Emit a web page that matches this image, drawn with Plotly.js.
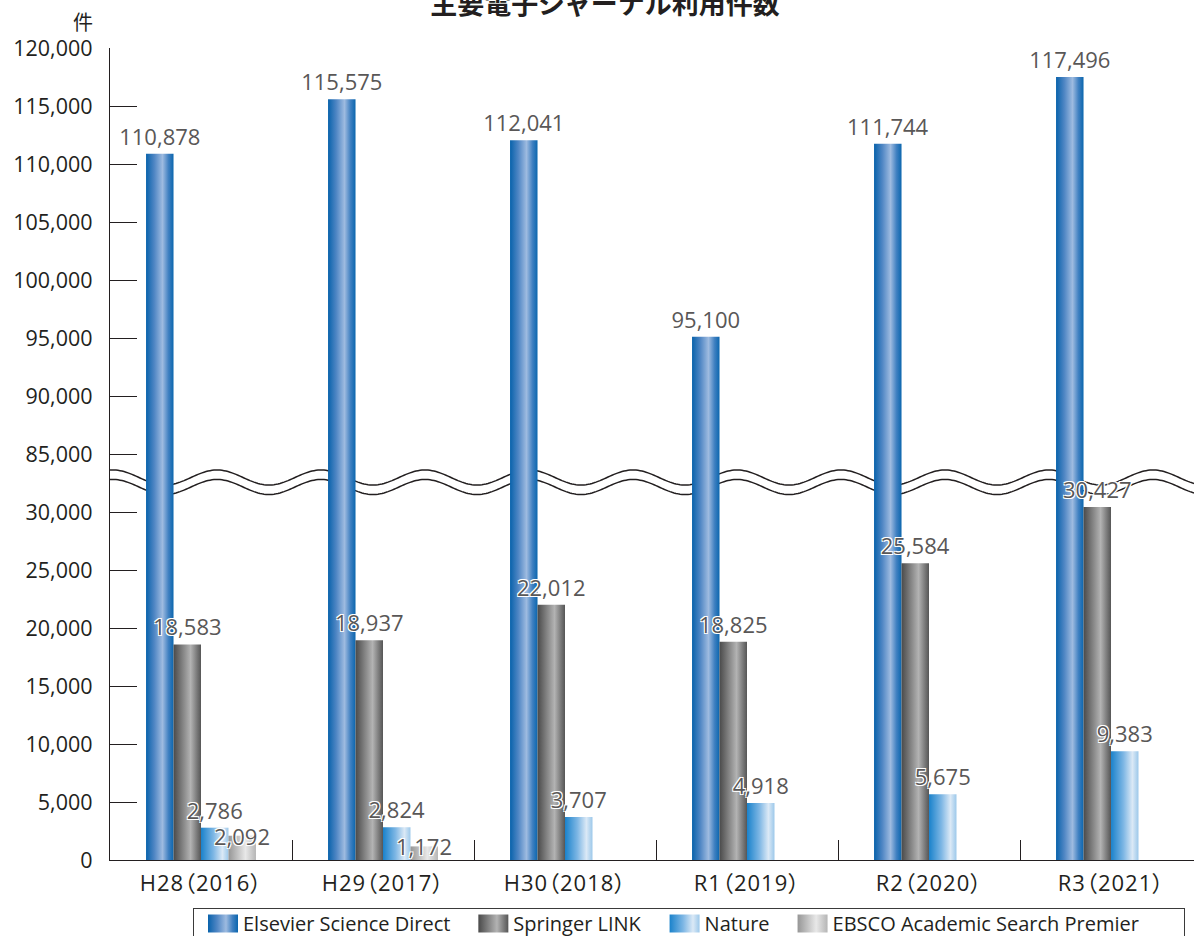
<!DOCTYPE html>
<html>
<head>
<meta charset="utf-8">
<script src="https://cdn.plot.ly/plotly-3.0.1.min.js"></script>
<style>
  html, body { margin: 0; padding: 0; background: #fff; }
  #chart { width: 1194px; height: 936px; }
</style>
</head>
<body>
<div id="chart"></div>
<script>
// Usage counts of the main e-journal platforms, by fiscal year
const categories = ['H28（2016）', 'H29（2017）', 'H30（2018）', 'R1（2019）', 'R2（2020）', 'R3（2021）'];
const elsevier = [110878, 115575, 112041, 95100, 111744, 117496];
const springer = [18583, 18937, 22012, 18825, 25584, 30427];
const nature = [2786, 2824, 3707, 4918, 5675, 9383];
const ebsco = [2092, 1172, null, null, null, null];
const seriesNames = ['Elsevier Science Direct', 'Springer LINK', 'Nature', 'EBSCO Academic Search Premier'];
const yTickValues = [0, 5000, 10000, 15000, 20000, 25000, 30000,
                     85000, 90000, 95000, 100000, 105000, 110000, 115000, 120000];

// Broken value axis: 30,000 .. 85,000 is squeezed into one 5,000 step
const BREAK_FROM = 30000;
const BREAK_TO = 85000;
const BREAK_SPAN = 5000;
function compress(v) {
  if (v === null) return null;
  return v >= BREAK_TO ? v - (BREAK_TO - BREAK_FROM) + BREAK_SPAN : v;
}
const fmt = v => (v === null ? '' : v.toLocaleString('en-US'));

const INK = '#231f20';
const LABEL = '#595757';
const LATIN = '"Open Sans", "Noto Sans CJK JP", sans-serif';
const CJK = '"Noto Sans CJK JP", sans-serif';
const HALO = '1px 1px 0 #fff, -1px -1px 0 #fff, 1px -1px 0 #fff, -1px 1px 0 #fff';

// Plot frame (pixels)
const PLOT_LEFT = 110, PLOT_RIGHT = 1194, PLOT_TOP = 48, PLOT_BOTTOM = 860;
const BARGAP = 0.396;
const X_RANGE = [-0.5, 5.456];

const gradients = [
  [[0, '#0862ab'], [0.3, '#4f86c4'], [0.6, '#9ebbe0'], [0.82, '#3f80c1'], [1, '#0b66ae']],
  [[0, '#4a4a4a'], [0.3, '#7d7d7d'], [0.62, '#b3b3b3'], [0.85, '#7a7a7a'], [1, '#565656']],
  [[0, '#1a82cb'], [0.45, '#7db6e4'], [0.78, '#dbe9f6'], [1, '#9cc8ea']],
  [[0, '#969696'], [0.35, '#c4c4c4'], [0.62, '#e8e8e8'], [1, '#b5b5b5']]
];
const flatColors = ['#1f6fb6', '#7a7a7a', '#5aa8de', '#c8c8c8'];

const allSeries = [elsevier, springer, nature, ebsco];
const traces = allSeries.map((vals, i) => ({
  type: 'bar',
  name: seriesNames[i],
  x: categories,
  y: vals.map(compress),
  customdata: vals,
  // the short EBSCO bars get their labels as annotations (see below)
  text: i === 3 ? vals.map(() => '') : vals.map(fmt),
  textposition: 'outside',
  constraintext: 'none',
  cliponaxis: false,
  textfont: { family: LATIN, size: 22, color: LABEL, shadow: HALO },
  marker: { color: flatColors[i], line: { width: 0 } },
  hovertemplate: '%{x}<br>' + seriesNames[i] + ': %{customdata:,}<extra></extra>'
}));

// EBSCO value labels, centred on the top of their bars
const catWidthPx = (PLOT_RIGHT - PLOT_LEFT) / (X_RANGE[1] - X_RANGE[0]);
const slotPx = catWidthPx * (1 - BARGAP) / 4;
const ebscoLabels = ebsco.map((v, j) => v === null ? null : ({
  text: fmt(v), x: categories[j], y: compress(v), xref: 'x', yref: 'y',
  xshift: 1.5 * slotPx, xanchor: 'center', yanchor: 'middle', showarrow: false,
  font: { family: LATIN, size: 22, color: LABEL, shadow: HALO }
})).filter(Boolean);

// Two wavy lines marking the axis break, drawn behind the bars
function wavePath(centerVal, ampVal) {
  const pts = [];
  for (let px = PLOT_LEFT; px <= PLOT_RIGHT; px += 2) {
    const xp = (px - PLOT_LEFT) / (PLOT_RIGHT - PLOT_LEFT);
    const yv = centerVal + ampVal * Math.cos(2 * Math.PI * (px - 217) / 104);
    pts.push((pts.length ? 'L' : 'M') + xp.toFixed(5) + ',' + yv.toFixed(1));
  }
  return pts.join(' ');
}
const waveShapes = [32974, 32155].map(c => ({
  type: 'path', xref: 'paper', yref: 'y', layer: 'below',
  path: wavePath(c, 647),
  line: { color: INK, width: 1.5 }
}));

const layout = {
  width: 1194, height: 936,
  margin: { l: PLOT_LEFT, r: 1194 - PLOT_RIGHT, t: PLOT_TOP, b: 936 - PLOT_BOTTOM, pad: 0 },
  paper_bgcolor: '#fff', plot_bgcolor: '#fff',
  barmode: 'group', bargap: BARGAP, bargroupgap: 0,
  showlegend: true,
  title: {
    text: '主要電子ジャーナル利用件数',
    font: { family: CJK, size: 27, color: INK, weight: 700 },
    xref: 'container', x: 605 / 1194, xanchor: 'center',
    yref: 'container', y: 0.995, yanchor: 'middle'
  },
  xaxis: {
    type: 'category',
    range: X_RANGE,
    showline: true, linecolor: INK, linewidth: 1.3,
    ticks: 'inside', tickson: 'boundaries', ticklen: 20, tickwidth: 1.3, tickcolor: INK,
    showgrid: false, zeroline: false,
    tickfont: { family: LATIN, size: 22, color: INK },
    ticklabelstandoff: 3,
    fixedrange: true
  },
  yaxis: {
    range: [0, compress(120000)],
    showline: true, linecolor: INK, linewidth: 1.3,
    ticks: 'inside', ticklen: 27, tickwidth: 1.3, tickcolor: INK,
    tickvals: yTickValues.map(compress),
    ticktext: yTickValues.map(fmt),
    showgrid: false, zeroline: false,
    tickfont: { family: LATIN, size: 21.5, color: INK },
    ticklabelstandoff: 12,
    fixedrange: true
  },
  legend: {
    orientation: 'h',
    xref: 'container', x: 193 / 1194, xanchor: 'left',
    yref: 'container', y: 1 - 908 / 936, yanchor: 'top',
    bordercolor: '#3a3a3a', borderwidth: 1, bgcolor: '#fff',
    font: { family: LATIN, size: 20, color: INK },
    itemclick: false, itemdoubleclick: false
  },
  shapes: waveShapes,
  annotations: [{
    text: '件', xref: 'paper', yref: 'paper',
    x: (83 - PLOT_LEFT) / (PLOT_RIGHT - PLOT_LEFT), y: 1 + (PLOT_TOP - 22) / (PLOT_BOTTOM - PLOT_TOP),
    xanchor: 'center', yanchor: 'middle', showarrow: false,
    font: { family: CJK, size: 20, color: INK }
  }].concat(ebscoLabels)
};

function translateOf(el) {
  const m = /translate\(\s*([-\d.e]+)[ ,]+([-\d.e]+)\s*\)/.exec(el.getAttribute('transform') || '');
  return m ? [parseFloat(m[1]), parseFloat(m[2])] : [0, 0];
}

// Horizontal metallic gradients for bars and legend swatches, legend spacing
function finishChart(gd) {
  const NS = 'http://www.w3.org/2000/svg';
  const svg = gd.querySelector('svg.main-svg');
  let defs = svg.querySelector('defs');
  if (!defs) { defs = document.createElementNS(NS, 'defs'); svg.insertBefore(defs, svg.firstChild); }
  gradients.forEach((stops, i) => {
    const lg = document.createElementNS(NS, 'linearGradient');
    lg.setAttribute('id', 'barGrad' + i);
    lg.setAttribute('x1', '0'); lg.setAttribute('x2', '1');
    lg.setAttribute('y1', '0'); lg.setAttribute('y2', '0');
    stops.forEach(([off, col]) => {
      const s = document.createElementNS(NS, 'stop');
      s.setAttribute('offset', off);
      s.setAttribute('stop-color', col);
      lg.appendChild(s);
    });
    defs.appendChild(lg);
  });
  const traceIndex = (el, fallback) => {
    const d = el.__data__;
    if (d && d[0] && d[0].trace) return d[0].trace.index;
    if (d && d[0] && d[0][0] && d[0][0].trace) return d[0][0].trace.index;
    return fallback;
  };
  gd.querySelectorAll('.barlayer .trace').forEach((g, i) => {
    const idx = traceIndex(g, i);
    g.querySelectorAll('.point path').forEach(p => { p.style.fill = 'url(#barGrad' + idx + ')'; });
  });

  // proportional full-width brackets in the category labels
  gd.querySelectorAll('.xtick text').forEach(t => {
    t.style.fontFeatureSettings = '"palt"';
    t.style.letterSpacing = '1px';
  });

  // wider legend swatches and roomier entries
  const SWATCH_START = 208, ENTRY_GAP = 28, BOX_LEFT = 193, BOX_PAD_RIGHT = 45, RAISE = 5;
  let nextLeft = SWATCH_START, lastTextEnd = 0;
  gd.querySelectorAll('.legend .traces').forEach((g, i) => {
    const idx = traceIndex(g, i);
    const sw = g.querySelector('.legendpoints path');
    if (sw) {
      sw.setAttribute('d', 'M15,9H-15V-9H15Z');
      sw.style.fill = 'url(#barGrad' + idx + ')';
      sw.style.stroke = 'none';
      const left = sw.getBoundingClientRect().left;
      const [tx, ty] = translateOf(g);
      g.setAttribute('transform', 'translate(' + (tx + nextLeft - left) + ',' + (ty - RAISE) + ')');
    }
    const txt = g.querySelector('.legendtext');
    if (txt) {
      lastTextEnd = txt.getBoundingClientRect().right;
      nextLeft = lastTextEnd + ENTRY_GAP;
    }
  });
  const boxWidth = lastTextEnd + BOX_PAD_RIGHT - BOX_LEFT;
  const bg = gd.querySelector('.legend rect.bg');
  if (bg) bg.setAttribute('width', boxWidth);
  const scroll = gd.querySelector('.legend .scrollbox');
  if (scroll) {
    const cp = /url\(["']?#([^"')]+)["']?\)/.exec(scroll.getAttribute('clip-path') || '');
    const clip = cp && document.getElementById(cp[1]);
    if (clip) clip.querySelectorAll('rect').forEach(r => r.setAttribute('width', boxWidth));
  }
}

Plotly.newPlot('chart', traces, layout, { displayModeBar: false })
  .then(finishChart);
</script>
</body>
</html>
